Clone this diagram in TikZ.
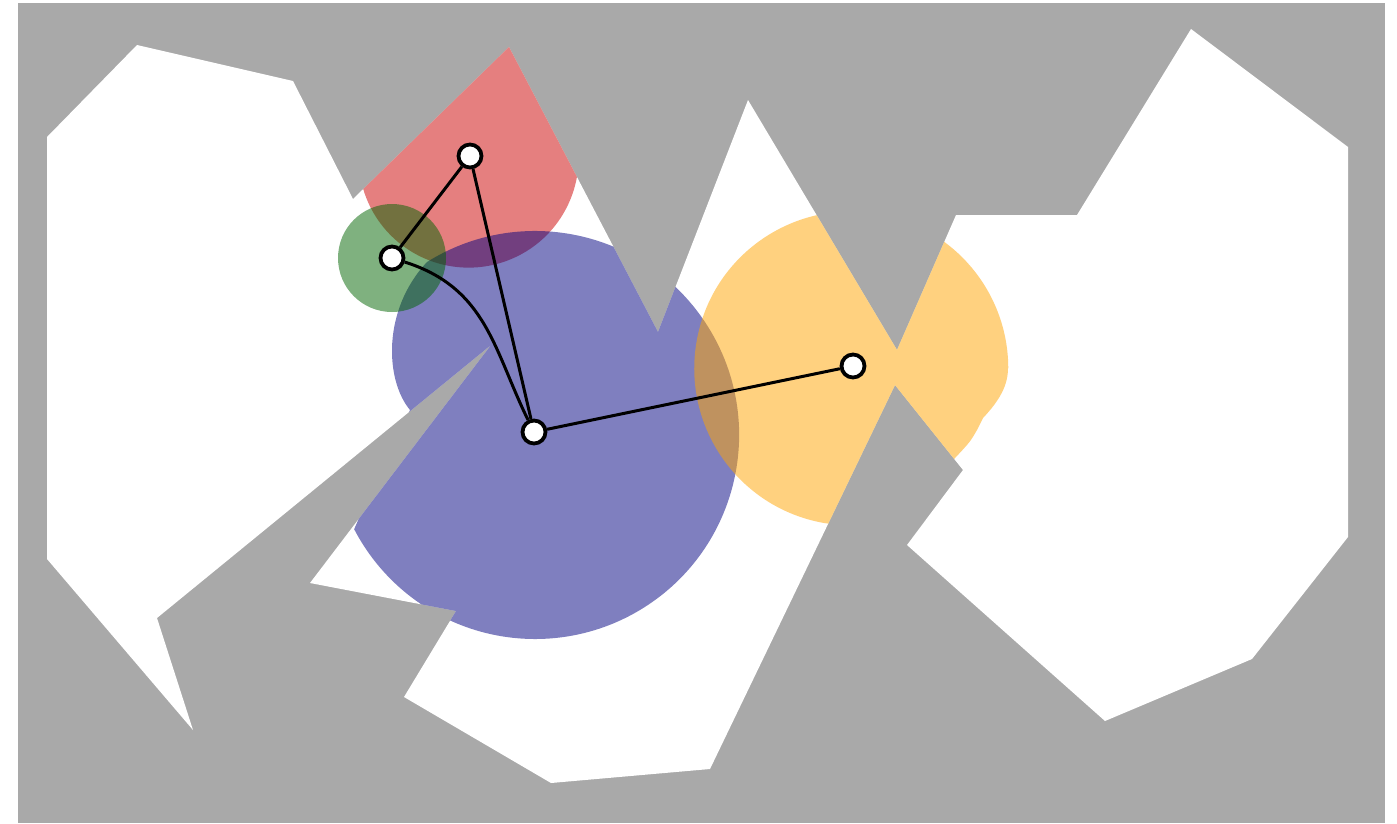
\documentclass[tikz,border=0pt]{standalone}
\usepackage{tikz}
\usetikzlibrary{positioning}
\definecolor{obstacle}{RGB}{169,169,169}
\definecolor{regred}{RGB}{204,0,0}
\definecolor{regblue}{RGB}{0,0,128}
\definecolor{reggreen}{RGB}{0,100,0}
\definecolor{regorange}{RGB}{255,165,0}

\begin{document}
\begin{tikzpicture}[x=1pt,y=-1pt,
  vertex/.style={circle,draw=black,fill=white,line width=3.8pt,minimum size=23pt,inner sep=0pt},
  link/.style={draw=black,line width=3pt},
  region/.style={fill opacity=0.5}]
  % Parameters
  \def\W{1397}        % picture width
  \def\H{823}         % picture height
  \def\freespace{(47,137) -- (137,45) -- (293,81) -- (353,199) -- (509,47)
    -- (658,332) -- (748,100) -- (897,350) -- (956,215) -- (1077,215)
    -- (1191,29) -- (1348,147) -- (1348,537) -- (1252,659) -- (1105,721)
    -- (907,545) -- (963,470) -- (895,385) -- (710,769) -- (551,783)
    -- (404,697) -- (456,611) -- (310,583) -- (491,345) -- (157,618)
    -- (193,730) -- (47,559) -- cycle}

  \useasboundingbox (0,0) rectangle (\W,\H);

  % Obstacles and free space
  \fill[obstacle] (18,3) rectangle (1385,\H);
  \fill[white] \freespace;

  % Regions, cut to the free space
  \begin{scope}
    \clip \freespace;
    \fill[regred,region] (572,120) arc[start angle=-20, end angle=165, radius=110]
      -- (420,80) -- (509,20) -- (600,60) -- cycle;
    \fill[regblue,region] (427,262) arc[start angle=-122, end angle=152.5, radius=204]
      -- (380,470) -- (410,410) .. controls (385,380) and (382,310) .. cycle;
    \fill[reggreen,region] (392,258) circle[radius=54];
    \fill[regorange,region] (1008,368) .. controls (1008,385) and (1000,400) .. (983,418)
      -- (977,430) .. controls (970,442) .. (955,458) -- (930,490) -- (860,528)
      -- (824,523) arc[start angle=100, end angle=360, radius=157] -- cycle;
  \end{scope}

  % Roadmap
  \node[vertex] (vtop) at (470,156) {};
  \node[vertex] (vleft) at (392,258) {};
  \node[vertex] (vmid) at (534,432) {};
  \node[vertex] (vright) at (853,366) {};

  \draw[link] (vtop) -- (vleft);
  \draw[link] (vtop) -- (vmid);
  \draw[link] (vleft) .. controls (487,288) and (494,351) .. (vmid);
  \draw[link] (vmid) -- (vright);
\end{tikzpicture}
\end{document}
